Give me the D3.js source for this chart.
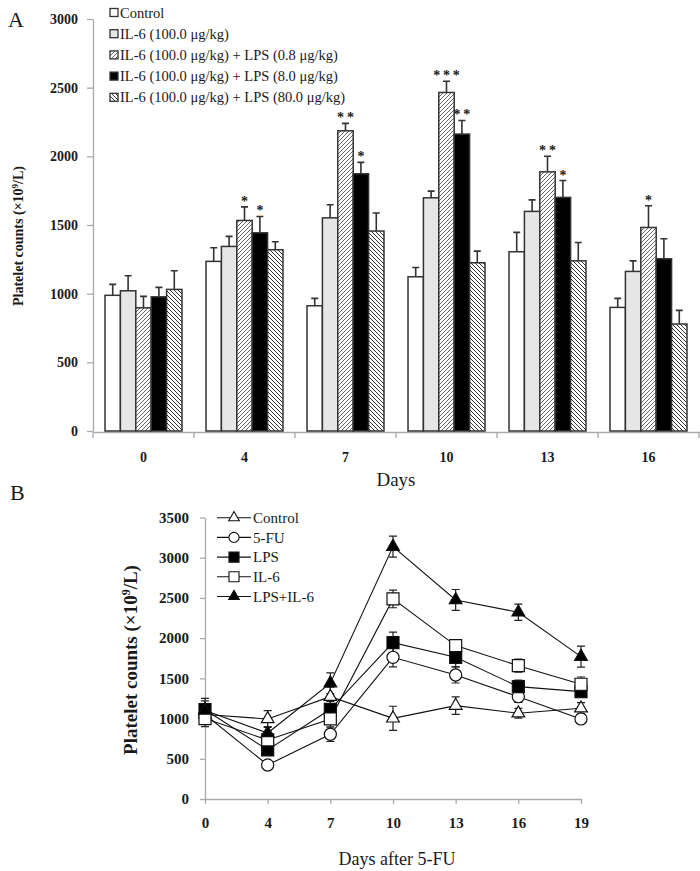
<!DOCTYPE html>
<html><head><meta charset="utf-8">
<script src="https://cdn.jsdelivr.net/npm/d3@7"></script>
<style>
body{margin:0;background:#fff}
text{font-family:"Liberation Serif","Times New Roman",serif;fill:#1a1a1a}
</style>
</head><body><svg id="c" width="700" height="871"></svg>
<script>
// ---------- Panel A data ----------
const daysA = ["0","4","7","10","13","16"];
const seriesA = ["Control","IL-6 (100.0 \u03bcg/kg)","IL-6 (100.0 \u03bcg/kg) + LPS (0.8 \u03bcg/kg)","IL-6 (100.0 \u03bcg/kg) + LPS (8.0 \u03bcg/kg)","IL-6 (100.0 \u03bcg/kg) + LPS (80.0 \u03bcg/kg)"];
const controlA    = [988, 1235, 912, 1123, 1305, 900];
const controlAErr = [80, 99, 54, 68, 141, 66];
const il6A        = [1021, 1344, 1552, 1698, 1599, 1162];
const il6AErr     = [109, 73, 95, 49, 84, 77];
const lps08A      = [897, 1533, 2186, 2465, 1887, 1482];
const lps08AErr   = [83, 99, 54, 82, 114, 158];
const lps8A       = [977, 1443, 1873, 2162, 1701, 1254];
const lps8AErr    = [69, 119, 83, 99, 123, 146];
const lps80A      = [1031, 1320, 1456, 1225, 1239, 779];
const lps80AErr   = [136, 58, 131, 85, 134, 99];
const sigLps08A   = ["", "*", "**", "***", "**", "*"];
const sigLps8A    = ["", "*", "*", "**", "*", ""];
const yTicksA     = [0, 500, 1000, 1500, 2000, 2500, 3000];

// ---------- Panel B data ----------
const daysB = ["0","4","7","10","13","16","19"];
const seriesB = ["Control","5-FU","LPS","IL-6","LPS+IL-6"];
const controlB    = [1050, 995, 1272, 1003, 1161, 1066, 1128];
const controlBErr = [120, 105, 120, 150, 110, 60, 70];
const fuB         = [1050, 423, 805, 1762, 1542, 1272, 995];
const fuBErr      = [100, 40, 90, 120, 100, 70, 50];
const lpsB        = [1110, 610, 1115, 1944, 1762, 1397, 1335];
const lpsBErr     = [140, 60, 100, 130, 120, 80, 70];
const il6B        = [1000, 734, 995, 2488, 1907, 1658, 1427];
const il6BErr     = [100, 60, 100, 110, 60, 80, 90];
const lpsIl6B     = [1100, 820, 1439, 3138, 2475, 2322, 1770];
const lpsIl6BErr  = [120, 80, 128, 130, 130, 100, 130];
const yTicksB     = [0, 500, 1000, 1500, 2000, 2500, 3000, 3500];

const svg = d3.select("#c");
const defs = svg.append("defs");
function hatch(id, d, color, w) {
  const p = defs.append("pattern").attr("id", id).attr("patternUnits", "userSpaceOnUse")
    .attr("width", 4).attr("height", 4);
  p.append("rect").attr("width", 4).attr("height", 4).attr("fill", "#fff");
  p.append("path").attr("d", d).attr("stroke", color).attr("stroke-width", w);
}
hatch("hF", "M-1,1 l2,-2 M0,4 l4,-4 M3,5 l2,-2", "#555", 0.9);
hatch("hB", "M-1,3 l2,2 M0,0 l4,4 M3,-1 l2,2", "#333", 1.0);

const AXC = "#aaa";
const EDGE = "#333";
const fmt = d3.format("d");

// ================= PANEL A =================
const valsA = [controlA, il6A, lps08A, lps8A, lps80A];
const errsA = [controlAErr, il6AErr, lps08AErr, lps8AErr, lps80AErr];
const fillsA = ["#ffffff", "#e6e6e6", "url(#hF)", "#000000", "url(#hB)"];
const sigA = {2: sigLps08A, 3: sigLps8A};

const xA = d3.scaleBand().domain(daysA).range([93, 699]).paddingInner(0.238).paddingOuter(0.119);
const xAin = d3.scaleBand().domain(d3.range(seriesA.length)).range([0, xA.bandwidth()]);
const yA = d3.scaleLinear().domain([0, 3000]).range([431, 19]);

const gA = svg.append("g");
// y axis
const yAxA = gA.append("g").attr("transform", "translate(93,0)")
  .call(d3.axisLeft(yA).tickValues(yTicksA).tickFormat(fmt).tickSize(6).tickSizeOuter(0).tickPadding(9));
yAxA.select(".domain").attr("stroke", AXC).attr("stroke-width", 1.3);
yAxA.selectAll(".tick line").attr("stroke", AXC).attr("stroke-width", 1.3);
yAxA.selectAll(".tick text").attr("font-size", 14).attr("font-weight", "bold")
  .attr("font-family", "Liberation Serif, serif").attr("fill", "#1a1a1a");

// x axis
const xAxA = gA.append("g").attr("transform", "translate(0,432)")
  .call(d3.axisBottom(xA).tickSize(0).tickSizeOuter(0).tickPadding(20));
xAxA.select(".domain").attr("stroke", AXC).attr("stroke-width", 1.3);
xAxA.selectAll(".tick text").attr("font-size", 14).attr("font-weight", "bold")
  .attr("font-family", "Liberation Serif, serif").attr("fill", "#1a1a1a");
const bounds = daysA.map(d => xA(d) - xA.step() * xA.paddingInner() / 2).concat([xA.range()[1]]);
gA.append("g").selectAll("line").data(bounds).join("line")
  .attr("x1", d => d).attr("x2", d => d).attr("y1", 432).attr("y2", 438)
  .attr("stroke", AXC).attr("stroke-width", 1.3);

// bars
seriesA.forEach((s, si) => {
  const g = gA.append("g");
  g.selectAll("rect").data(daysA).join("rect")
    .attr("x", (d) => xA(d) + xAin(si))
    .attr("y", (d, i) => yA(valsA[si][i]))
    .attr("width", xAin.bandwidth())
    .attr("height", (d, i) => yA(0) - yA(valsA[si][i]))
    .attr("fill", fillsA[si]).attr("stroke", EDGE).attr("stroke-width", 1.5);
  const cx = d => xA(d) + xAin(si) + xAin.bandwidth() / 2;
  g.selectAll("path.err").data(daysA).join("path").attr("class", "err")
    .attr("d", (d, i) => {
      const x = cx(d), y0 = yA(valsA[si][i]), y1 = yA(valsA[si][i] + errsA[si][i]);
      return `M${x},${y0}V${y1}M${x - 3.5},${y1}H${x + 3.5}`;
    })
    .attr("fill", "none").attr("stroke", EDGE).attr("stroke-width", 1.6);
  if (sigA[si]) {
    g.selectAll("text.sig").data(daysA).join("text").attr("class", "sig")
      .attr("x", cx)
      .attr("y", (d, i) => yA(valsA[si][i] + errsA[si][i]) - 1)
      .attr("text-anchor", "middle").attr("font-size", 14).attr("font-weight", "bold")
      .attr("fill", "#111")
      .text((d, i) => sigA[si][i].split("").join("\u2009"));
  }
});

// legend A
const legA = gA.append("g").attr("transform", "translate(110,0)");
seriesA.forEach((s, si) => {
  const cy = 12.5 + si * 21.2;
  legA.append("rect").attr("x", 0).attr("y", cy - 4).attr("width", 8).attr("height", 8)
    .attr("fill", fillsA[si]).attr("stroke", EDGE).attr("stroke-width", 1.3);
  legA.append("text").attr("x", 10).attr("y", cy).attr("dy", "0.35em")
    .attr("font-size", 14.5).text(s);
});

// titles A
gA.append("text").attr("x", 8).attr("y", 27).attr("font-size", 22).text("A");
const tA = gA.append("text").attr("transform", "translate(23,236) rotate(-90)")
  .attr("text-anchor", "middle").attr("font-size", 14).attr("font-weight", "bold");
tA.append("tspan").text("Platelet counts (\u00d710");
tA.append("tspan").attr("font-size", 9).attr("dy", -5).text("9");
tA.append("tspan").attr("dy", 5).text("/L)");
gA.append("text").attr("x", 396).attr("y", 486).attr("text-anchor", "middle")
  .attr("font-size", 19).attr("fill", "#333").text("Days");

// ================= PANEL B =================
const valsB = [controlB, fuB, lpsB, il6B, lpsIl6B];
const errsB = [controlBErr, fuBErr, lpsBErr, il6BErr, lpsIl6BErr];
const symB = [d3.symbolTriangle, d3.symbolCircle, d3.symbolSquare, d3.symbolSquare, d3.symbolTriangle];
const symSize = [70, 115, 144, 144, 70];
const symFill = ["#fff", "#fff", "#000", "#fff", "#000"];

const xB = d3.scalePoint().domain(daysB).range([205, 581]);
const yB = d3.scaleLinear().domain([0, 3500]).range([799, 517.5]);

const gB = svg.append("g");
const yAxB = gB.append("g").attr("transform", "translate(205,0)")
  .call(d3.axisLeft(yB).tickValues(yTicksB).tickFormat(fmt).tickSize(5).tickSizeOuter(0).tickPadding(11));
yAxB.select(".domain").attr("stroke", AXC).attr("stroke-width", 1.3);
yAxB.selectAll(".tick line").attr("stroke", AXC).attr("stroke-width", 1.3);
yAxB.selectAll(".tick text").attr("font-size", 15).attr("font-weight", "bold")
  .attr("font-family", "Liberation Serif, serif").attr("fill", "#1a1a1a");
const xAxB = gB.append("g").attr("transform", "translate(0,799)")
  .call(d3.axisBottom(xB).tickSize(5).tickSizeOuter(0).tickPadding(13));
xAxB.select(".domain").attr("stroke", AXC).attr("stroke-width", 1.3);
xAxB.selectAll(".tick line").attr("stroke", AXC).attr("stroke-width", 1.3);
xAxB.selectAll(".tick text").attr("font-size", 15).attr("font-weight", "bold")
  .attr("font-family", "Liberation Serif, serif").attr("fill", "#1a1a1a");

const line = d3.line().x((d, i) => xB(daysB[i])).y(d => yB(d));
valsB.forEach((v, si) => {
  gB.append("path").attr("d", line(v)).attr("fill", "none").attr("stroke", "#111").attr("stroke-width", 1.1);
});
valsB.forEach((v, si) => {
  gB.append("g").selectAll("path").data(v).join("path")
    .attr("d", (d, i) => {
      const x = xB(daysB[i]), y0 = yB(d - errsB[si][i]), y1 = yB(d + errsB[si][i]);
      return `M${x},${y0}V${y1}M${x - 4},${y1}H${x + 4}M${x - 4},${y0}H${x + 4}`;
    })
    .attr("fill", "none").attr("stroke", "#222").attr("stroke-width", 1.2);
});
valsB.forEach((v, si) => {
  gB.append("g").selectAll("path").data(v).join("path")
    .attr("transform", (d, i) => `translate(${xB(daysB[i])},${yB(d)})`)
    .attr("d", d3.symbol().type(symB[si]).size(symSize[si]))
    .attr("fill", symFill[si]).attr("stroke", "#111").attr("stroke-width", 1.2);
});

// legend B
const legB = gB.append("g");
seriesB.forEach((s, si) => {
  const cy = 517.7 + si * 19.7;
  legB.append("line").attr("x1", 217).attr("x2", 251).attr("y1", cy).attr("y2", cy)
    .attr("stroke", "#111").attr("stroke-width", 1.1);
  legB.append("path").attr("transform", `translate(234,${cy})`)
    .attr("d", d3.symbol().type(symB[si]).size(symSize[si] * 0.7))
    .attr("fill", symFill[si]).attr("stroke", "#111").attr("stroke-width", 1.1);
  legB.append("text").attr("x", 253).attr("y", cy).attr("dy", "0.35em")
    .attr("font-size", 15).attr("fill", "#333").text(s);
});

gB.append("text").attr("x", 10).attr("y", 500).attr("font-size", 22).text("B");
const tB = gB.append("text").attr("transform", "translate(137,660) rotate(-90)")
  .attr("text-anchor", "middle").attr("font-size", 19).attr("font-weight", "bold");
tB.append("tspan").text("Platelet counts (\u00d710");
tB.append("tspan").attr("font-size", 12).attr("dy", -7).text("9");
tB.append("tspan").attr("dy", 7).text("/L)");
gB.append("text").attr("x", 397).attr("y", 865).attr("text-anchor", "middle")
  .attr("font-size", 18).attr("fill", "#333").text("Days after 5-FU");
</script>
</body></html>
